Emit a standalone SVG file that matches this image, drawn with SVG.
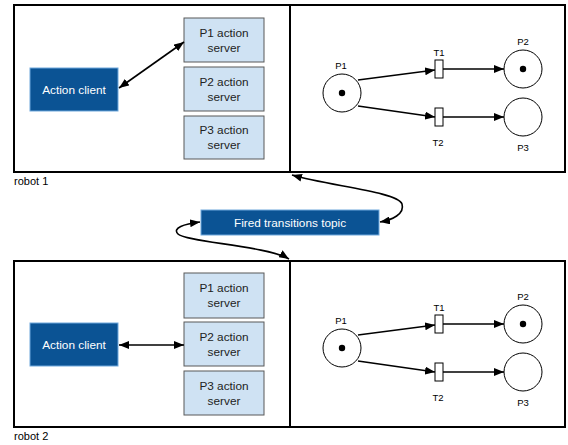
<svg xmlns="http://www.w3.org/2000/svg" width="568" height="445" viewBox="0 0 568 445">
  <style>
    text { font-family: "Liberation Sans", Arial, sans-serif; fill: #000; }
    .panel { fill: #fff; stroke: #000; stroke-width: 2; }
    .client { fill: #0b5394; stroke: #6fa8dc; stroke-width: 1; }
    .client-text { fill: #fff; font-size: 11.8px; text-anchor: middle; }
    .server { fill: #cfe2f3; stroke: #595959; stroke-width: 1; }
    .server-text { font-size: 11.8px; text-anchor: middle; fill: #222; }
    .place { fill: #fff; stroke: #000; stroke-width: 1; }
    .token { fill: #000; }
    .trans { fill: #fff; stroke: #000; stroke-width: 1; }
    .lbl { font-size: 9.5px; text-anchor: middle; }
    .robot { font-size: 11px; }
    .edge { fill: none; stroke: #000; stroke-width: 1.6; }
    .arc { fill: none; stroke: #000; stroke-width: 1.5; }
  </style>
  <defs>
    <marker id="head" viewBox="0 0 10 8" refX="10" refY="4" markerWidth="10" markerHeight="8" markerUnits="userSpaceOnUse" orient="auto-start-reverse">
      <path d="M0,0 L10,4 L0,8 Z" fill="#000"/>
    </marker>
    <g id="petri">
      <circle class="place" cx="342" cy="93" r="19"/>
      <circle class="token" cx="342" cy="93" r="3.2"/>
      <rect class="trans" x="435" y="60" width="8" height="18"/>
      <rect class="trans" x="435" y="108" width="8" height="18"/>
      <circle class="place" cx="523" cy="69" r="19"/>
      <circle class="token" cx="523" cy="69" r="3.2"/>
      <circle class="place" cx="523" cy="117" r="19"/>
      <path class="arc" d="M358,80 L435,70" marker-end="url(#head)"/>
      <path class="arc" d="M358,106 L435,117" marker-end="url(#head)"/>
      <path class="arc" d="M443,69 L504,69" marker-end="url(#head)"/>
      <path class="arc" d="M443,117 L504,117" marker-end="url(#head)"/>
      <text class="lbl" x="341" y="69">P1</text>
      <text class="lbl" x="439" y="56">T1</text>
      <text class="lbl" x="523" y="45">P2</text>
      <text class="lbl" x="438" y="146">T2</text>
      <text class="lbl" x="523" y="151">P3</text>
    </g>
  </defs>

  <!-- robot 1 -->
  <g id="robot1">
    <rect class="panel" x="14" y="5" width="276" height="167"/>
    <rect class="panel" x="290" y="5" width="275" height="167"/>
    <text class="robot" x="14" y="185">robot 1</text>
  </g>
  <g id="robot1-client">
    <rect class="client" x="30" y="68" width="88" height="43"/>
    <text class="client-text" x="74" y="93.5">Action client</text>
  </g>
  <g id="robot1-p1server">
    <rect class="server" x="184" y="18" width="80" height="44"/>
    <text class="server-text" x="224" y="37">P1 action</text>
    <text class="server-text" x="224" y="52">server</text>
  </g>
  <g id="robot1-p2server">
    <rect class="server" x="184" y="67" width="80" height="44"/>
    <text class="server-text" x="224" y="86">P2 action</text>
    <text class="server-text" x="224" y="101">server</text>
  </g>
  <g id="robot1-p3server">
    <rect class="server" x="184" y="116" width="80" height="43"/>
    <text class="server-text" x="224" y="134">P3 action</text>
    <text class="server-text" x="224" y="149">server</text>
  </g>
  <g id="robot1-petri">
    <use href="#petri"/>
  </g>

  <!-- robot 2 -->
  <g id="robot2">
    <rect class="panel" x="14" y="261" width="276" height="166"/>
    <rect class="panel" x="290" y="261" width="275" height="166"/>
    <text class="robot" x="14" y="440">robot 2</text>
  </g>
  <g id="robot2-client">
    <rect class="client" x="30" y="323" width="88" height="43"/>
    <text class="client-text" x="74" y="348.5">Action client</text>
  </g>
  <g id="robot2-p1server">
    <rect class="server" x="184" y="273" width="80" height="45"/>
    <text class="server-text" x="224" y="292">P1 action</text>
    <text class="server-text" x="224" y="307">server</text>
  </g>
  <g id="robot2-p2server">
    <rect class="server" x="184" y="322" width="80" height="44"/>
    <text class="server-text" x="224" y="341">P2 action</text>
    <text class="server-text" x="224" y="356">server</text>
  </g>
  <g id="robot2-p3server">
    <rect class="server" x="184" y="371" width="80" height="44"/>
    <text class="server-text" x="224" y="390">P3 action</text>
    <text class="server-text" x="224" y="405">server</text>
  </g>
  <g id="robot2-petri">
    <use href="#petri" transform="translate(0,255)"/>
  </g>

  <!-- shared topic -->
  <g id="topic">
    <rect class="client" x="201" y="210" width="178" height="25"/>
    <text class="client-text" x="290" y="226.5">Fired transitions topic</text>
  </g>

  <!-- connectors -->
  <g id="connectors">
    <path class="edge" d="M119,88 L184,42" marker-start="url(#head)" marker-end="url(#head)"/>
    <path class="edge" d="M119,345 L184,345" marker-start="url(#head)" marker-end="url(#head)"/>
    <path class="edge" d="M292,175 C330,186 398,192 402,204 C405,214 392,220 380,222" marker-start="url(#head)" marker-end="url(#head)"/>
    <path class="edge" d="M200,222 C184,224 172,228 178,234 C186,242 268,246 289,259" marker-start="url(#head)" marker-end="url(#head)"/>
  </g>
</svg>
